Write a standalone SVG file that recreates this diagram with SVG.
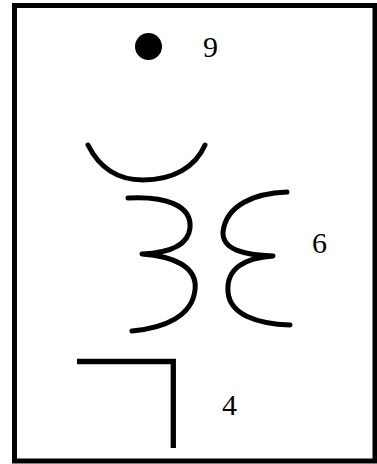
<svg xmlns="http://www.w3.org/2000/svg" width="377" height="464" viewBox="0 0 377 464">
<style>
.s{fill:none;stroke:#000;stroke-width:5;stroke-linecap:round;stroke-linejoin:round}
.t{font-family:"Liberation Serif","Times New Roman",serif;font-size:30px;fill:#000}
</style>
<rect x="0" y="0" width="377" height="464" fill="#fff"/>
<rect x="14.5" y="5.5" width="360.5" height="455.5" fill="none" stroke="#000" stroke-width="5"/>
<g id="dot">
<circle cx="148.5" cy="46.5" r="13.5" fill="#000"/>
<text class="t" x="203" y="57">9</text>
</g>
<g id="coil">
<path class="s" d="M88,145 C98,165 115,180 143,180 C172,180 195,168 205,145"/>
<path class="s" d="M128,198 C165,196 192,205 190,228 C188,247 165,253 142,254 C172,256 198,266 195,290 C192,316 165,328 132,331"/>
<path class="s" d="M287,192 C255,193 226,205 223,232 C222,250 245,255 273,256 C245,258 226,268 228,292 C230,315 258,324 290,325"/>
<text class="t" x="312" y="253">6</text>
</g>
<g id="corner">
<path class="s" style="stroke-width:5.3;stroke-linecap:butt;stroke-linejoin:miter" d="M77,361.5 H173.3 V448"/>
<text class="t" x="222" y="415">4</text>
</g>
</svg>
